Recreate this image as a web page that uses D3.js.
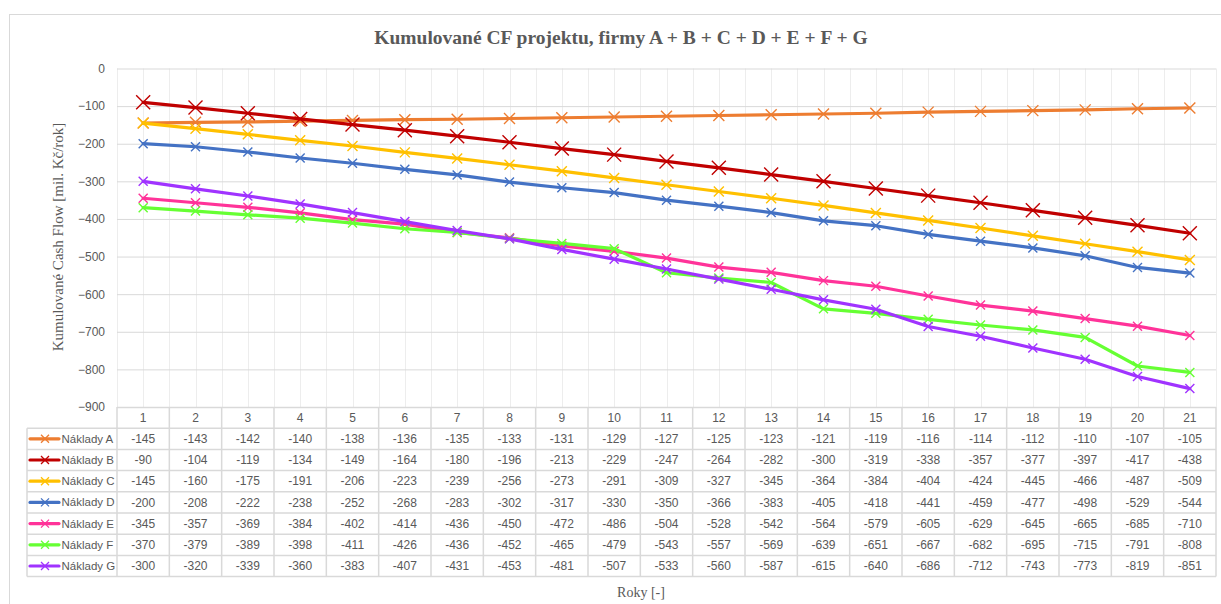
<!DOCTYPE html>
<html><head><meta charset="utf-8">
<script src="https://cdn.jsdelivr.net/npm/d3@7"></script>
<style>body{margin:0;background:#fff;} svg{display:block;}</style>
</head><body>
<svg id="chart" width="1221" height="604"></svg>
<script>
const years = d3.range(1, 22).map(String);
const seriesNames = ["Náklady A","Náklady B","Náklady C","Náklady D","Náklady E","Náklady F","Náklady G"];
const nakladyA = [-145,-143,-142,-140,-138,-136,-135,-133,-131,-129,-127,-125,-123,-121,-119,-116,-114,-112,-110,-107,-105];
const nakladyB = [-90,-104,-119,-134,-149,-164,-180,-196,-213,-229,-247,-264,-282,-300,-319,-338,-357,-377,-397,-417,-438];
const nakladyC = [-145,-160,-175,-191,-206,-223,-239,-256,-273,-291,-309,-327,-345,-364,-384,-404,-424,-445,-466,-487,-509];
const nakladyD = [-200,-208,-222,-238,-252,-268,-283,-302,-317,-330,-350,-366,-383,-405,-418,-441,-459,-477,-498,-529,-544];
const nakladyE = [-345,-357,-369,-384,-402,-414,-436,-450,-472,-486,-504,-528,-542,-564,-579,-605,-629,-645,-665,-685,-710];
const nakladyF = [-370,-379,-389,-398,-411,-426,-436,-452,-465,-479,-543,-557,-569,-639,-651,-667,-682,-695,-715,-791,-808];
const nakladyG = [-300,-320,-339,-360,-383,-407,-431,-453,-481,-507,-533,-560,-587,-615,-640,-686,-712,-743,-773,-819,-851];
const yTicks = [0,-100,-200,-300,-400,-500,-600,-700,-800,-900];
const colors = ["#ED7D31","#C00000","#FFC000","#4472C4","#FF3399","#66FF33","#A033FF"];
const markerSizes = [11,14,10,9,9,9,9];
const seriesValues = [nakladyA,nakladyB,nakladyC,nakladyD,nakladyE,nakladyF,nakladyG];

const svg = d3.select("#chart");
const L = 117, R = 1216, T = 68.5, B = 407;
const rowH = 21.2;
const legendLeft = 27;
const sansFont = "'Liberation Sans', Arial, sans-serif";
const serifFont = "'Liberation Serif', 'DejaVu Serif', serif";
const textColor = "#595959";
const gridColor = "#d9d9d9";

// chart border
svg.append("rect").attr("x",9.5).attr("y",14.5).attr("width",1230).attr("height",620)
  .attr("fill","#fff").attr("stroke","#d9d9d9").attr("stroke-width",1);

const x = d3.scaleBand().domain(years).range([L, R]).padding(0);
const y = d3.scaleLinear().domain([-900, 0]).range([B, T]);
const bw = x.bandwidth();

// vertical gridlines: boundaries and centres
const g = svg.append("g");
const vPos = [];
years.forEach(d => { vPos.push(x(d)); vPos.push(x(d) + bw/2); });
vPos.push(R);
g.selectAll("line.vg").data(vPos).join("line")
  .attr("x1", d => Math.round(d)+0.5).attr("x2", d => Math.round(d)+0.5)
  .attr("y1", T).attr("y2", B)
  .attr("stroke", "#ededed").attr("stroke-width", 1);

// horizontal gridlines
const yAxis = d3.axisLeft(y).tickValues(yTicks).tickSize(-(R - L)).tickFormat(d3.format("d"));
const ya = svg.append("g").attr("transform", `translate(${L},0)`).call(yAxis);
ya.select(".domain").remove();
ya.selectAll(".tick line").attr("stroke", gridColor).attr("stroke-width", 1);
ya.selectAll(".tick text").attr("x", -12).attr("fill", textColor)
  .style("font-family", sansFont).style("font-size", "12px");

// lines
const line = d3.line().x((d,i) => x(years[i]) + bw/2).y(d => y(d));
seriesValues.forEach((vals, si) => {
  const sg = svg.append("g");
  sg.append("path").datum(vals).attr("d", line).attr("fill","none")
    .attr("stroke", colors[si]).attr("stroke-width", 3.2)
    .attr("stroke-linejoin","round").attr("stroke-linecap","round");
  const s = markerSizes[si]/2;
  sg.selectAll("path.m").data(vals).join("path")
    .attr("d", (d,i) => {
      const cx = x(years[i]) + bw/2, cy = y(d);
      return `M${cx-s},${cy-s}L${cx+s},${cy+s}M${cx-s},${cy+s}L${cx+s},${cy-s}`;
    })
    .attr("stroke", colors[si]).attr("stroke-width", 1.4).attr("fill","none");
});

// data table
const tg = svg.append("g");
const nRows = seriesNames.length;
const tableBottom = B + rowH * (nRows + 1);
tg.append("line").attr("x1", L).attr("x2", R).attr("y1", B+0.5).attr("y2", B+0.5)
  .attr("stroke", gridColor).attr("stroke-width", 1.5);
d3.range(1, nRows + 2).forEach(r => {
  const yy = B + r * rowH;
  tg.append("line").attr("x1", legendLeft).attr("x2", R).attr("y1", yy).attr("y2", yy)
    .attr("stroke", gridColor).attr("stroke-width", 1.5);
});
tg.selectAll("line.cv").data(years.map(d => x(d)).concat([R])).join("line")
  .attr("x1", d => d).attr("x2", d => d).attr("y1", B).attr("y2", tableBottom)
  .attr("stroke", gridColor).attr("stroke-width", 1.5);
tg.append("line").attr("x1", legendLeft).attr("x2", legendLeft).attr("y1", B + rowH).attr("y2", tableBottom)
  .attr("stroke", gridColor).attr("stroke-width", 1.5);

tg.selectAll("text.h").data(years).join("text")
  .attr("x", d => x(d) + bw/2).attr("y", B + rowH/2).attr("dy", "0.35em")
  .attr("text-anchor", "middle").attr("fill", textColor)
  .style("font-family", sansFont).style("font-size", "12px").text(d => d);

seriesValues.forEach((vals, si) => {
  const cy = B + rowH * (si + 1) + rowH/2;
  tg.selectAll(null).data(vals).join("text")
    .attr("x", (d,i) => x(years[i]) + bw/2).attr("y", cy).attr("dy", "0.35em")
    .attr("text-anchor", "middle").attr("fill", textColor)
    .style("font-family", sansFont).style("font-size", "12px").text(d => d);
  tg.append("line").attr("x1", 30).attr("x2", 59).attr("y1", cy).attr("y2", cy)
    .attr("stroke", colors[si]).attr("stroke-width", 3.2).attr("stroke-linecap","round");
  const s = 4;
  tg.append("path").attr("d", `M${45-s},${cy-s}L${45+s},${cy+s}M${45-s},${cy+s}L${45+s},${cy-s}`)
    .attr("stroke", colors[si]).attr("stroke-width", 1.3);
  tg.append("text").attr("x", 61.5).attr("y", cy).attr("dy", "0.35em")
    .attr("fill", textColor).style("font-family", sansFont).style("font-size", "11.5px")
    .text(seriesNames[si]);
});

// title
svg.append("text").attr("x", 621).attr("y", 44).attr("text-anchor", "middle")
  .attr("fill", textColor).style("font-family", serifFont).style("font-size", "19.5px")
  .style("font-weight", "bold").text("Kumulované CF projektu, firmy A + B + C + D + E + F + G");

// axis titles
svg.append("text").attr("transform", "translate(63,237) rotate(-90)").attr("text-anchor", "middle")
  .attr("fill", textColor).style("font-family", serifFont).style("font-size", "15px")
  .text("Kumulované Cash Flow [mil. Kč/rok]");
svg.append("text").attr("x", 641).attr("y", 597).attr("text-anchor", "middle")
  .attr("fill", textColor).style("font-family", serifFont).style("font-size", "14px")
  .text("Roky [-]");
</script>
</body></html>
